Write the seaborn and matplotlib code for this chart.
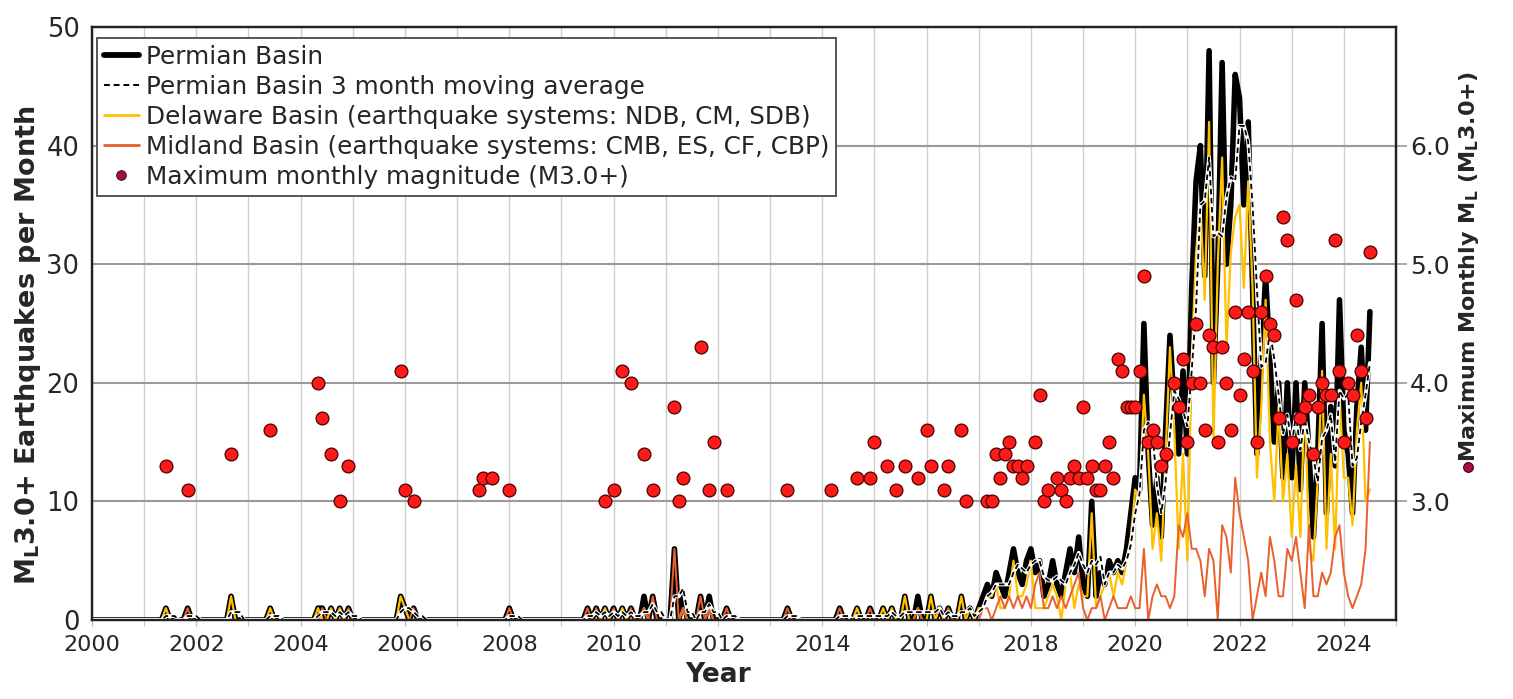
import numpy as np
import pandas as pd
import matplotlib
matplotlib.use("Agg")
import matplotlib.pyplot as plt
import seaborn as sns
from matplotlib.lines import Line2D

# ---------------- data (monthly counts, Jan 2000 - Jul 2024) ----------------
permian = [
    0, 0, 0, 0, 0, 0, 0, 0, 0, 0, 0, 0,        # 2000
    0, 0, 0, 0, 0, 1, 0, 0, 0, 0, 1, 0,        # 2001
    0, 0, 0, 0, 0, 0, 0, 0, 2, 0, 0, 0,        # 2002
    0, 0, 0, 0, 0, 1, 0, 0, 0, 0, 0, 0,        # 2003
    0, 0, 0, 0, 1, 1, 0, 1, 0, 1, 0, 1,        # 2004
    0, 0, 0, 0, 0, 0, 0, 0, 0, 0, 0, 2,        # 2005
    1, 0, 1, 0, 0, 0, 0, 0, 0, 0, 0, 0,        # 2006
    0, 0, 0, 0, 0, 0, 0, 0, 0, 0, 0, 0,        # 2007
    1, 0, 0, 0, 0, 0, 0, 0, 0, 0, 0, 0,        # 2008
    0, 0, 0, 0, 0, 0, 1, 0, 1, 0, 1, 0,        # 2009
    1, 0, 1, 0, 1, 0, 0, 2, 0, 2, 0, 0,        # 2010
    0, 0, 6, 0, 2, 0, 0, 0, 2, 0, 2, 0,        # 2011
    0, 0, 1, 0, 0, 0, 0, 0, 0, 0, 0, 0,        # 2012
    0, 0, 0, 0, 1, 0, 0, 0, 0, 0, 0, 0,        # 2013
    0, 0, 0, 0, 1, 0, 0, 0, 1, 0, 0, 1,        # 2014
    0, 0, 1, 0, 1, 0, 0, 2, 0, 0, 2, 0,        # 2015
    0, 2, 0, 1, 0, 1, 0, 0, 2, 0, 1, 0,        # 2016
    1, 2, 3, 2, 4, 3, 2, 4, 6, 4, 3, 5,        # 2017
    6, 4, 5, 2, 3, 5, 3, 2, 4, 6, 4, 7,        # 2018
    3, 2, 10, 2, 4, 3, 5, 4, 5, 4, 6, 9,       # 2019
    12, 11, 25, 14, 8, 12, 7, 16, 24, 18, 14, 21,   # 2020
    14, 28, 37, 40, 29, 48, 20, 30, 47, 30, 35, 46,  # 2021
    44, 35, 42, 28, 14, 22, 29, 22, 15, 20, 12, 20,  # 2022
    12, 20, 11, 20, 14, 7, 14, 25, 9, 18, 13, 27,    # 2023
    16, 14, 9, 18, 23, 16, 26,                       # 2024
]

delaware = [
    0, 0, 0, 0, 0, 0, 0, 0, 0, 0, 0, 0,        # 2000
    0, 0, 0, 0, 0, 1, 0, 0, 0, 0, 0, 0,        # 2001
    0, 0, 0, 0, 0, 0, 0, 0, 2, 0, 0, 0,        # 2002
    0, 0, 0, 0, 0, 1, 0, 0, 0, 0, 0, 0,        # 2003
    0, 0, 0, 0, 1, 0, 0, 1, 0, 1, 0, 0,        # 2004
    0, 0, 0, 0, 0, 0, 0, 0, 0, 0, 0, 2,        # 2005
    1, 0, 0, 0, 0, 0, 0, 0, 0, 0, 0, 0,        # 2006
    0, 0, 0, 0, 0, 0, 0, 0, 0, 0, 0, 0,        # 2007
    0, 0, 0, 0, 0, 0, 0, 0, 0, 0, 0, 0,        # 2008
    0, 0, 0, 0, 0, 0, 0, 0, 0, 0, 1, 0,        # 2009
    0, 0, 1, 0, 0, 0, 0, 1, 0, 0, 0, 0,        # 2010
    0, 0, 0, 0, 1, 0, 0, 0, 0, 0, 1, 0,        # 2011
    0, 0, 0, 0, 0, 0, 0, 0, 0, 0, 0, 0,        # 2012
    0, 0, 0, 0, 0, 0, 0, 0, 0, 0, 0, 0,        # 2013
    0, 0, 0, 0, 0, 0, 0, 0, 1, 0, 0, 0,        # 2014
    0, 0, 1, 0, 1, 0, 0, 2, 0, 0, 1, 0,        # 2015
    0, 2, 0, 1, 0, 0, 0, 0, 2, 0, 1, 0,        # 2016
    1, 1, 2, 2, 3, 1, 1, 2, 5, 2, 2, 3,        # 2017
    5, 1, 1, 1, 2, 3, 2, 0, 3, 4, 1, 3,        # 2018
    2, 2, 9, 1, 2, 3, 4, 2, 4, 3, 5, 7,        # 2019
    11, 10, 19, 14, 6, 9, 5, 14, 23, 16, 6, 14,     # 2020
    5, 22, 31, 35, 27, 42, 15, 30, 39, 23, 31, 34,  # 2021
    35, 28, 37, 28, 12, 18, 27, 15, 10, 18, 10, 14, # 2022
    7, 13, 7, 19, 6, 5, 12, 21, 6, 14, 6, 19,       # 2023
    12, 12, 8, 16, 20, 10, 11,                      # 2024
]

midland = [
    0, 0, 0, 0, 0, 0, 0, 0, 0, 0, 0, 0,        # 2000
    0, 0, 0, 0, 0, 0, 0, 0, 0, 0, 1, 0,        # 2001
    0, 0, 0, 0, 0, 0, 0, 0, 0, 0, 0, 0,        # 2002
    0, 0, 0, 0, 0, 0, 0, 0, 0, 0, 0, 0,        # 2003
    0, 0, 0, 0, 0, 1, 0, 0, 0, 0, 0, 1,        # 2004
    0, 0, 0, 0, 0, 0, 0, 0, 0, 0, 0, 0,        # 2005
    0, 0, 1, 0, 0, 0, 0, 0, 0, 0, 0, 0,        # 2006
    0, 0, 0, 0, 0, 0, 0, 0, 0, 0, 0, 0,        # 2007
    1, 0, 0, 0, 0, 0, 0, 0, 0, 0, 0, 0,        # 2008
    0, 0, 0, 0, 0, 0, 1, 0, 1, 0, 0, 0,        # 2009
    1, 0, 0, 0, 1, 0, 0, 1, 0, 2, 0, 0,        # 2010
    0, 0, 6, 0, 1, 0, 0, 0, 2, 0, 1, 0,        # 2011
    0, 0, 1, 0, 0, 0, 0, 0, 0, 0, 0, 0,        # 2012
    0, 0, 0, 0, 1, 0, 0, 0, 0, 0, 0, 0,        # 2013
    0, 0, 0, 0, 1, 0, 0, 0, 0, 0, 0, 1,        # 2014
    0, 0, 0, 0, 0, 0, 0, 0, 0, 0, 1, 0,        # 2015
    0, 0, 0, 0, 0, 1, 0, 0, 0, 0, 0, 0,        # 2016
    0, 1, 1, 0, 1, 2, 1, 2, 1, 2, 1, 2,        # 2017
    1, 3, 4, 1, 1, 2, 1, 2, 1, 2, 3, 4,        # 2018
    1, 0, 1, 1, 2, 0, 1, 2, 1, 1, 1, 2,        # 2019
    1, 1, 6, 0, 2, 3, 2, 2, 1, 2, 8, 7,        # 2020
    9, 6, 6, 5, 2, 6, 5, 0, 8, 7, 4, 12,       # 2021
    9, 7, 5, 0, 2, 4, 2, 7, 5, 2, 2, 6,        # 2022
    5, 7, 4, 1, 8, 2, 2, 4, 3, 4, 7, 8,        # 2023
    4, 2, 1, 2, 3, 6, 15,                      # 2024
]

mag_month = [
    "2001-06", "2001-11", "2002-09", "2003-06", "2004-05", "2004-06", "2004-08",
    "2004-10", "2004-12", "2005-12", "2006-01", "2006-03", "2007-06", "2007-07",
    "2007-09", "2008-01", "2009-11", "2010-01", "2010-03", "2010-05", "2010-08",
    "2010-10", "2011-03", "2011-04", "2011-05", "2011-09", "2011-11", "2011-12",
    "2012-03", "2013-05", "2014-03", "2014-09", "2014-12", "2015-01", "2015-04",
    "2015-06", "2015-08", "2015-11", "2016-01", "2016-02", "2016-05", "2016-06",
    "2016-09", "2016-10", "2017-03", "2017-04", "2017-05", "2017-06", "2017-07",
    "2017-08", "2017-09", "2017-10", "2017-11", "2017-12", "2018-02", "2018-03",
    "2018-04", "2018-05", "2018-07", "2018-08", "2018-09", "2018-10", "2018-11",
    "2018-12", "2019-01", "2019-02", "2019-03", "2019-04", "2019-05", "2019-06",
    "2019-07", "2019-08", "2019-09", "2019-10", "2019-11", "2019-12", "2020-01",
    "2020-02", "2020-03", "2020-04", "2020-05", "2020-06", "2020-07", "2020-08",
    "2020-10", "2020-11", "2020-12", "2021-01", "2021-02", "2021-03", "2021-04",
    "2021-05", "2021-06", "2021-07", "2021-08", "2021-09", "2021-10", "2021-11",
    "2021-12", "2022-01", "2022-02", "2022-03", "2022-04", "2022-05", "2022-06",
    "2022-07", "2022-08", "2022-09", "2022-10", "2022-11", "2022-12", "2023-01",
    "2023-02", "2023-03", "2023-04", "2023-05", "2023-06", "2023-07", "2023-08",
    "2023-09", "2023-10", "2023-11", "2023-12", "2024-01", "2024-02", "2024-03",
    "2024-04", "2024-05", "2024-06", "2024-07",
]
mag_value = [
    3.3, 3.1, 3.4, 3.6, 4.0, 3.7, 3.4,
    3.0, 3.3, 4.1, 3.1, 3.0, 3.1, 3.2,
    3.2, 3.1, 3.0, 3.1, 4.1, 4.0, 3.4,
    3.1, 3.8, 3.0, 3.2, 4.3, 3.1, 3.5,
    3.1, 3.1, 3.1, 3.2, 3.2, 3.5, 3.3,
    3.1, 3.3, 3.2, 3.6, 3.3, 3.1, 3.3,
    3.6, 3.0, 3.0, 3.0, 3.4, 3.2, 3.4,
    3.5, 3.3, 3.3, 3.2, 3.3, 3.5, 3.9,
    3.0, 3.1, 3.2, 3.1, 3.0, 3.2, 3.3,
    3.2, 3.8, 3.2, 3.3, 3.1, 3.1, 3.3,
    3.5, 3.2, 4.2, 4.1, 3.8, 3.8, 3.8,
    4.1, 4.9, 3.5, 3.6, 3.5, 3.3, 3.4,
    4.0, 3.8, 4.2, 3.5, 4.0, 4.5, 4.0,
    3.6, 4.4, 4.3, 3.5, 4.3, 4.0, 3.6,
    4.6, 3.9, 4.2, 4.6, 4.1, 3.5, 4.6,
    4.9, 4.5, 4.4, 3.7, 5.4, 5.2, 3.5,
    4.7, 3.7, 3.8, 3.9, 3.4, 3.8, 4.0,
    3.9, 3.9, 5.2, 4.1, 3.5, 4.0, 3.9,
    4.4, 4.1, 3.7, 5.1,
]

year_ticks = list(range(2000, 2025, 2))
left_ticks = [0, 10, 20, 30, 40, 50]
right_ticks = [3.0, 4.0, 5.0, 6.0]

legend_labels = [
    "Permian Basin",
    "Permian Basin 3 month moving average",
    "Delaware Basin (earthquake systems: NDB, CM, SDB)",
    "Midland Basin (earthquake systems: CMB, ES, CF, CBP)",
    "Maximum monthly magnitude (M3.0+)",
]

# ---------------- frame ----------------
n = len(permian)
df = pd.DataFrame({
    "t": 2000 + np.arange(n) / 12.0,
    "permian": permian,
    "delaware": delaware,
    "midland": midland,
})
df["ma"] = df["permian"].rolling(3, min_periods=1).mean()

mag_df = pd.DataFrame({"month": mag_month, "mag": mag_value})
mag_df["t"] = [int(s[:4]) + (int(s[5:]) - 1) / 12.0 for s in mag_df["month"]]

# ---------------- style ----------------
sns.set_style("white")
plt.rcParams["font.family"] = ["DejaVu Sans"]
plt.rcParams["mathtext.fontset"] = "custom"
plt.rcParams["mathtext.rm"] = "DejaVu Sans"
plt.rcParams["mathtext.bf"] = "DejaVu Sans:bold"

BLACK = "#000000"
GOLD = "#FFC000"
ORANGE = "#E8602C"
RED = "#FF1A1A"
CRIMSON = "#A3103F"

W, H = 1513, 699
fig = plt.figure(figsize=(W / 100, H / 100), dpi=100)
L, R, T, B = 92, 1396, 27, 620
ax = fig.add_axes([L / W, 1 - B / H, (R - L) / W, (B - T) / H])

sns.lineplot(data=df, x="t", y="permian", ax=ax, color=BLACK, lw=4.0,
             zorder=2, legend=False)
sns.lineplot(data=df, x="t", y="delaware", ax=ax, color=GOLD, lw=1.6,
             zorder=3, legend=False)
sns.lineplot(data=df, x="t", y="midland", ax=ax, color=ORANGE, lw=1.4,
             zorder=4, legend=False)
sns.lineplot(data=df, x="t", y="ma", ax=ax, color="white", lw=2.8,
             zorder=5, legend=False)
sns.lineplot(data=df, x="t", y="ma", ax=ax, color=BLACK, lw=1.3,
             linestyle=(0, (3, 2)), zorder=6, legend=False)

ax.set_xlim(2000, 2025)
ax.set_ylim(0, 50)
ax.set_xticks(year_ticks)
ax.set_xticks(range(2000, 2026), minor=True)
ax.set_xticklabels([str(y) for y in year_ticks])
ax.set_yticks(left_ticks)
ax.grid(which="both", axis="x", color="#cfcfcf", lw=1.0, zorder=0)
ax.grid(which="major", axis="y", color="#9a9a9a", lw=1.5, zorder=0)
ax.set_axisbelow(True)
ax.tick_params(axis="x", which="both", direction="out", length=4,
               color="#bbbbbb", labelsize=16, pad=7, bottom=True)
ax.tick_params(axis="y", direction="in", length=0, labelsize=18.5, pad=9)
for s in ax.spines.values():
    s.set_color("#222222")
    s.set_linewidth(1.6)

ax.set_xlabel("Year", fontsize=19, fontweight="bold")
ax.xaxis.set_label_coords(0.48, -0.07)
ax.set_ylabel(r"M$_\mathbf{L}$3.0+ Earthquakes per Month", fontsize=19.5,
              fontweight="bold")
ax.yaxis.set_label_coords((43 - L) / (R - L), (B - 345) / (B - T))

# ---------------- right axis: magnitudes ----------------
ax2 = ax.twinx()
sns.scatterplot(data=mag_df, x="t", y="mag", ax=ax2, color=RED,
                edgecolor="#4a0000", linewidth=0.9, s=85, zorder=7,
                legend=False)
ax2.set_ylim(2, 7)
ax2.set_yticks(right_ticks)
ax2.set_yticklabels([f"{v:.1f}" for v in right_ticks])
ax2.tick_params(axis="y", direction="out", length=8, color="#9a9a9a",
                width=1.2, labelsize=18, pad=2)
ax2.set_ylabel(r"Maximum Monthly M$_\mathbf{L}$ (M$_\mathbf{L}$3.0+)",
               fontsize=16, fontweight="bold")
ax2.yaxis.set_label_coords((1457 - L) / (R - L), (B - 267) / (B - T))
for s in ax2.spines.values():
    s.set_color("#222222")
    s.set_linewidth(1.6)

# marker next to the right axis label
fig.add_artist(Line2D([1468 / W], [1 - 467 / H], transform=fig.transFigure,
                      marker="o", markersize=7, color=CRIMSON,
                      markeredgecolor="#3a0010", markeredgewidth=0.8,
                      linestyle="none"))

# ---------------- legend ----------------
handles = [
    Line2D([], [], color=BLACK, lw=4.2),
    Line2D([], [], color=BLACK, lw=1.4, linestyle=(0, (3, 2))),
    Line2D([], [], color=GOLD, lw=2.0),
    Line2D([], [], color=ORANGE, lw=2.0),
    Line2D([], [], color=CRIMSON, marker="o", markersize=7, linestyle="none",
           markeredgecolor="#3a0010", markeredgewidth=0.6),
]
leg = ax2.legend(handles, legend_labels, loc="upper left",
                 bbox_to_anchor=(5 / (R - L), 1 - 11 / (B - T)),
                 fontsize=17.8, frameon=True, fancybox=False,
                 edgecolor="#555555", framealpha=1, borderpad=0.28,
                 labelspacing=0.24, handlelength=1.4, handletextpad=0.3,
                 borderaxespad=0)
leg.get_frame().set_linewidth(1.4)
leg.set_zorder(20)

fig.savefig("out.png", dpi=100)
